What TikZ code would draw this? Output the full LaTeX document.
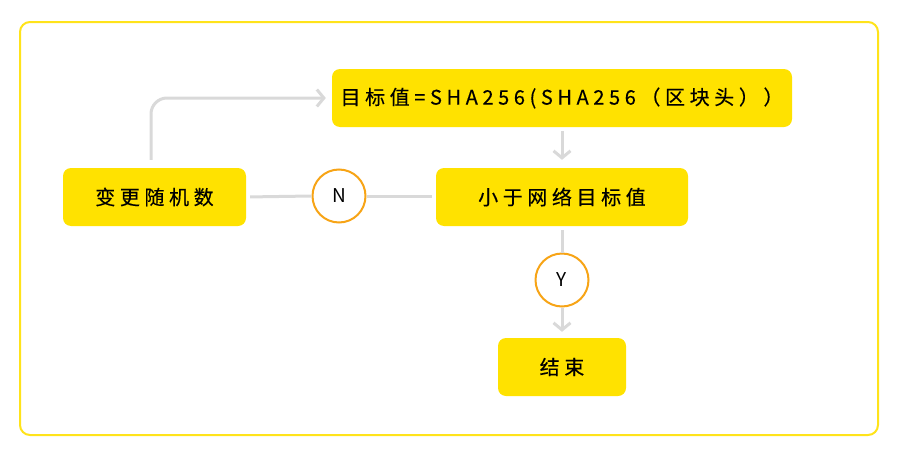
\documentclass[tikz,border=0pt]{standalone}
\usepackage{fontspec}
\setmainfont[LetterSpace=23,FakeBold=0.25]{Noto Sans CJK SC}
\newfontfamily\plainfont{Noto Sans CJK SC}
\usetikzlibrary{arrows.meta}
\definecolor{boxyellow}{HTML}{FFE200}
\definecolor{framey}{HTML}{FFE31A}
\definecolor{conngray}{HTML}{D9D9D9}
\definecolor{ringorange}{HTML}{F7A416}
\tikzset{
  ybox/.style={fill=boxyellow, rounded corners=8pt, inner sep=0pt, font=\fontsize{20}{22}\selectfont},
  conn/.style={draw=conngray, line width=3pt},
  tip/.style={-{Straight Barb[length=7pt,width=17pt,line width=3pt]}},
  ring/.style={circle, draw=ringorange, line width=2pt, fill=white, minimum size=53pt, inner sep=0pt, font=\plainfont\fontsize{19}{21}\selectfont}
}
\begin{document}
\begin{tikzpicture}[x=1pt,y=-1pt]
\useasboundingbox (0,0) rectangle (900,455);
\draw[framey, line width=2pt, rounded corners=10pt] (20,22) rectangle (878,435);
\node[ybox, minimum width=460pt, minimum height=58pt] (top) at (562,98) {目标值=SHA256(SHA256（区块头））};
\node[ybox, minimum width=183pt, minimum height=58pt] (chg) at (154.5,197) {变更随机数};
\node[ybox, minimum width=252pt, minimum height=58pt] (cmp) at (562,197) {小于网络目标值};
\node[ybox, minimum width=128pt, minimum height=58pt] (end) at (562,367) {结束};
\node[ring] (n) at (339,196) {N};
\node[ring] (y) at (562,280) {Y};
\draw[conn, tip, rounded corners=16pt, shorten <=8pt, shorten >=6pt] ([xshift=-3.5pt]chg.north) |- (top.west);
\draw[conn, tip, shorten <=4pt, shorten >=8pt] (top.south) -- (cmp.north);
\draw[conn, shorten <=4pt] (chg.east) -- (n.west);
\draw[conn, shorten >=4pt] (n.east) -- (cmp.west |- n.east);
\draw[conn, shorten <=4pt] (cmp.south) -- (y.north);
\draw[conn, tip, shorten >=6pt] (y.south) -- (end.north);
\end{tikzpicture}
\end{document}
